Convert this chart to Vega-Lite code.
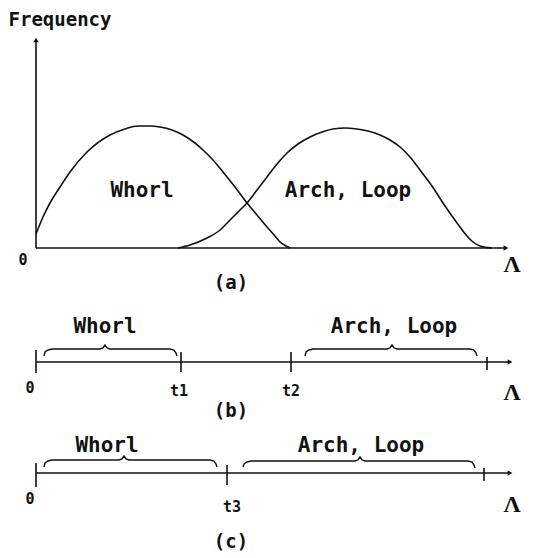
{
  "$schema": "https://vega.github.io/schema/vega-lite/v6.json",
  "width": 549,
  "height": 558,
  "autosize": {"type": "fit", "contains": "padding"},
  "padding": 0,
  "background": "white",
  "config": {"view": {"stroke": null}},
  "datasets": {
    "curves": [
      {"series": "Whorl", "i": 1, "x": 36, "y": 234},
      {"series": "Whorl", "i": 2, "x": 43, "y": 217},
      {"series": "Whorl", "i": 3, "x": 50, "y": 203},
      {"series": "Whorl", "i": 4, "x": 60, "y": 187},
      {"series": "Whorl", "i": 5, "x": 70, "y": 172},
      {"series": "Whorl", "i": 6, "x": 87, "y": 152},
      {"series": "Whorl", "i": 7, "x": 110, "y": 135},
      {"series": "Whorl", "i": 8, "x": 125, "y": 129},
      {"series": "Whorl", "i": 9, "x": 138, "y": 126},
      {"series": "Whorl", "i": 10, "x": 150, "y": 126},
      {"series": "Whorl", "i": 11, "x": 160, "y": 127},
      {"series": "Whorl", "i": 12, "x": 172, "y": 130},
      {"series": "Whorl", "i": 13, "x": 183, "y": 135},
      {"series": "Whorl", "i": 14, "x": 195, "y": 143},
      {"series": "Whorl", "i": 15, "x": 203, "y": 150},
      {"series": "Whorl", "i": 16, "x": 213, "y": 160},
      {"series": "Whorl", "i": 17, "x": 223, "y": 172},
      {"series": "Whorl", "i": 18, "x": 235, "y": 187},
      {"series": "Whorl", "i": 19, "x": 247, "y": 203},
      {"series": "Whorl", "i": 20, "x": 257, "y": 215},
      {"series": "Whorl", "i": 21, "x": 267, "y": 227},
      {"series": "Whorl", "i": 22, "x": 275, "y": 236},
      {"series": "Whorl", "i": 23, "x": 280, "y": 242},
      {"series": "Whorl", "i": 24, "x": 286, "y": 246},
      {"series": "Whorl", "i": 25, "x": 290, "y": 248},
      {"series": "Arch", "i": 1, "x": 178, "y": 248},
      {"series": "Arch", "i": 2, "x": 190, "y": 245},
      {"series": "Arch", "i": 3, "x": 207, "y": 238},
      {"series": "Arch", "i": 4, "x": 220, "y": 230},
      {"series": "Arch", "i": 5, "x": 230, "y": 220},
      {"series": "Arch", "i": 6, "x": 240, "y": 210},
      {"series": "Arch", "i": 7, "x": 247, "y": 203},
      {"series": "Arch", "i": 8, "x": 257, "y": 190},
      {"series": "Arch", "i": 9, "x": 267, "y": 177},
      {"series": "Arch", "i": 10, "x": 277, "y": 164},
      {"series": "Arch", "i": 11, "x": 287, "y": 153},
      {"series": "Arch", "i": 12, "x": 298, "y": 144},
      {"series": "Arch", "i": 13, "x": 310, "y": 137},
      {"series": "Arch", "i": 14, "x": 322, "y": 132},
      {"series": "Arch", "i": 15, "x": 333, "y": 129},
      {"series": "Arch", "i": 16, "x": 345, "y": 128},
      {"series": "Arch", "i": 17, "x": 357, "y": 129},
      {"series": "Arch", "i": 18, "x": 368, "y": 131},
      {"series": "Arch", "i": 19, "x": 380, "y": 135},
      {"series": "Arch", "i": 20, "x": 390, "y": 140},
      {"series": "Arch", "i": 21, "x": 400, "y": 147},
      {"series": "Arch", "i": 22, "x": 410, "y": 157},
      {"series": "Arch", "i": 23, "x": 420, "y": 170},
      {"series": "Arch", "i": 24, "x": 432, "y": 186},
      {"series": "Arch", "i": 25, "x": 443, "y": 203},
      {"series": "Arch", "i": 26, "x": 452, "y": 216},
      {"series": "Arch", "i": 27, "x": 460, "y": 227},
      {"series": "Arch", "i": 28, "x": 467, "y": 236},
      {"series": "Arch", "i": 29, "x": 473, "y": 242},
      {"series": "Arch", "i": 30, "x": 480, "y": 246},
      {"series": "Arch", "i": 31, "x": 492, "y": 248}
    ],
    "braces": [
      {"id": "bW", "i": 1, "x": 44, "y": 356}, {"id": "bW", "i": 2, "x": 45, "y": 352}, {"id": "bW", "i": 3, "x": 48, "y": 350}, {"id": "bW", "i": 4, "x": 52, "y": 349}, {"id": "bW", "i": 5, "x": 100, "y": 349}, {"id": "bW", "i": 6, "x": 103, "y": 348}, {"id": "bW", "i": 7, "x": 105, "y": 345}, {"id": "bW", "i": 8, "x": 107, "y": 348}, {"id": "bW", "i": 9, "x": 110, "y": 349}, {"id": "bW", "i": 10, "x": 170, "y": 349}, {"id": "bW", "i": 11, "x": 174, "y": 350}, {"id": "bW", "i": 12, "x": 176, "y": 353}, {"id": "bW", "i": 13, "x": 177, "y": 356},
      {"id": "bA", "i": 1, "x": 305, "y": 356}, {"id": "bA", "i": 2, "x": 306, "y": 352}, {"id": "bA", "i": 3, "x": 309, "y": 350}, {"id": "bA", "i": 4, "x": 313, "y": 349}, {"id": "bA", "i": 5, "x": 387, "y": 349}, {"id": "bA", "i": 6, "x": 390, "y": 348}, {"id": "bA", "i": 7, "x": 392, "y": 345}, {"id": "bA", "i": 8, "x": 394, "y": 348}, {"id": "bA", "i": 9, "x": 397, "y": 349}, {"id": "bA", "i": 10, "x": 470, "y": 349}, {"id": "bA", "i": 11, "x": 474, "y": 350}, {"id": "bA", "i": 12, "x": 476, "y": 353}, {"id": "bA", "i": 13, "x": 477, "y": 356},
      {"id": "cW", "i": 1, "x": 44, "y": 467}, {"id": "cW", "i": 2, "x": 45, "y": 463}, {"id": "cW", "i": 3, "x": 48, "y": 461}, {"id": "cW", "i": 4, "x": 52, "y": 460}, {"id": "cW", "i": 5, "x": 119, "y": 460}, {"id": "cW", "i": 6, "x": 122, "y": 459}, {"id": "cW", "i": 7, "x": 124, "y": 456}, {"id": "cW", "i": 8, "x": 126, "y": 459}, {"id": "cW", "i": 9, "x": 129, "y": 460}, {"id": "cW", "i": 10, "x": 210, "y": 460}, {"id": "cW", "i": 11, "x": 214, "y": 461}, {"id": "cW", "i": 12, "x": 216, "y": 464}, {"id": "cW", "i": 13, "x": 217, "y": 467},
      {"id": "cA", "i": 1, "x": 243, "y": 467}, {"id": "cA", "i": 2, "x": 244, "y": 464}, {"id": "cA", "i": 3, "x": 247, "y": 462}, {"id": "cA", "i": 4, "x": 251, "y": 461}, {"id": "cA", "i": 5, "x": 355, "y": 461}, {"id": "cA", "i": 6, "x": 358, "y": 460}, {"id": "cA", "i": 7, "x": 360, "y": 457}, {"id": "cA", "i": 8, "x": 362, "y": 460}, {"id": "cA", "i": 9, "x": 365, "y": 461}, {"id": "cA", "i": 10, "x": 468, "y": 461}, {"id": "cA", "i": 11, "x": 472, "y": 462}, {"id": "cA", "i": 12, "x": 474, "y": 465}, {"id": "cA", "i": 13, "x": 475, "y": 468}
    ],
    "segments": [
      {"x": 36, "x2": 36, "y": 40, "y2": 248},
      {"x": 36, "x2": 505, "y": 248, "y2": 248},
      {"x": 36, "x2": 509, "y": 362, "y2": 362},
      {"x": 36, "x2": 509, "y": 473, "y2": 473},
      {"x": 36, "x2": 36, "y": 350, "y2": 373},
      {"x": 181, "x2": 181, "y": 352, "y2": 372},
      {"x": 291, "x2": 291, "y": 352, "y2": 372},
      {"x": 487, "x2": 487, "y": 357, "y2": 370},
      {"x": 36, "x2": 36, "y": 463, "y2": 487},
      {"x": 227, "x2": 227, "y": 465, "y2": 485},
      {"x": 484, "x2": 484, "y": 468, "y2": 481}
    ],
    "arrowsRight": [
      {"x": 506, "y": 248},
      {"x": 510, "y": 362},
      {"x": 510, "y": 473}
    ],
    "arrowsUp": [
      {"x": 36, "y": 40}
    ],
    "labelsBig": [
      {"text": "Whorl", "x": 142, "y": 197},
      {"text": "Arch, Loop", "x": 348, "y": 197},
      {"text": "Whorl", "x": 105, "y": 333},
      {"text": "Arch, Loop", "x": 394, "y": 333},
      {"text": "Whorl", "x": 107, "y": 452},
      {"text": "Arch, Loop", "x": 361, "y": 452}
    ],
    "labelsMid": [
      {"text": "Frequency", "x": 60, "y": 26},
      {"text": "(a)", "x": 231, "y": 289},
      {"text": "(b)", "x": 231, "y": 417},
      {"text": "(c)", "x": 231, "y": 548}
    ],
    "labelsSmall": [
      {"text": "0", "x": 23, "y": 265},
      {"text": "0", "x": 30, "y": 393},
      {"text": "0", "x": 30, "y": 504},
      {"text": "t1", "x": 179, "y": 396},
      {"text": "t2", "x": 291, "y": 396},
      {"text": "t3", "x": 232, "y": 512}
    ],
    "lambdas": [
      {"text": "Λ", "x": 512, "y": 272},
      {"text": "Λ", "x": 512, "y": 400},
      {"text": "Λ", "x": 512, "y": 512}
    ]
  },
  "encoding": {
    "x": {"field": "x", "type": "quantitative", "scale": {"domain": [0, 549]}, "axis": null},
    "y": {"field": "y", "type": "quantitative", "scale": {"domain": [0, 558], "reverse": true}, "axis": null}
  },
  "layer": [
    {
      "data": {"name": "segments"},
      "mark": {"type": "rule", "color": "#111", "strokeWidth": 1.6},
      "encoding": {"x2": {"field": "x2"}, "y2": {"field": "y2"}}
    },
    {
      "data": {"name": "curves"},
      "mark": {"type": "line", "color": "#111", "strokeWidth": 1.6, "interpolate": "monotone"},
      "encoding": {"detail": {"field": "series"}, "order": {"field": "i"}}
    },
    {
      "data": {"name": "braces"},
      "mark": {"type": "line", "color": "#111", "strokeWidth": 1.4},
      "encoding": {"detail": {"field": "id"}, "order": {"field": "i"}}
    },
    {
      "data": {"name": "arrowsRight"},
      "mark": {"type": "point", "shape": "triangle-right", "filled": true, "color": "#111", "size": 30, "opacity": 1}
    },
    {
      "data": {"name": "arrowsUp"},
      "mark": {"type": "point", "shape": "triangle-up", "filled": true, "color": "#111", "size": 30, "opacity": 1}
    },
    {
      "data": {"name": "labelsBig"},
      "mark": {"type": "text", "font": "DejaVu Sans Mono", "fontSize": 21, "fontWeight": "bold", "baseline": "alphabetic", "align": "center", "color": "#111"},
      "encoding": {"text": {"field": "text"}}
    },
    {
      "data": {"name": "labelsMid"},
      "mark": {"type": "text", "font": "DejaVu Sans Mono", "fontSize": 19, "fontWeight": "bold", "baseline": "alphabetic", "align": "center", "color": "#111"},
      "encoding": {"text": {"field": "text"}}
    },
    {
      "data": {"name": "labelsSmall"},
      "mark": {"type": "text", "font": "DejaVu Sans Mono", "fontSize": 15, "fontWeight": "bold", "baseline": "alphabetic", "align": "center", "color": "#111"},
      "encoding": {"text": {"field": "text"}}
    },
    {
      "data": {"name": "lambdas"},
      "mark": {"type": "text", "font": "Liberation Serif", "fontSize": 24, "fontWeight": "bold", "baseline": "alphabetic", "align": "center", "color": "#111"},
      "encoding": {"text": {"field": "text"}}
    }
  ]
}
